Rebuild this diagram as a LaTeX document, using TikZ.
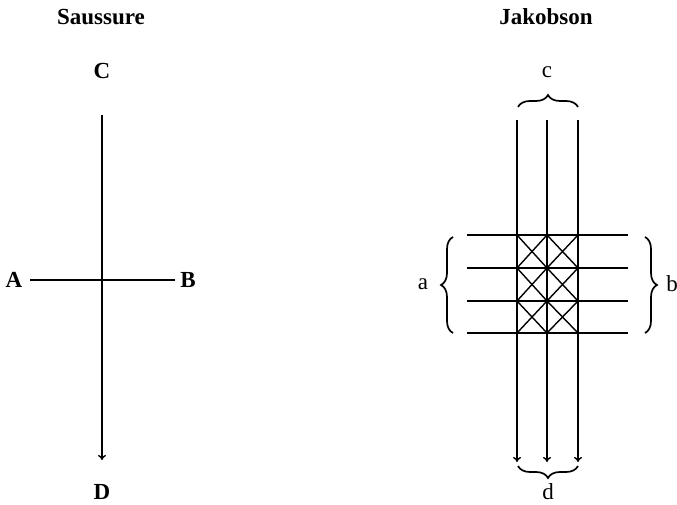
\documentclass[tikz,border=0pt]{standalone}
\usepackage{fontspec}
\setmainfont{Liberation Serif}
\usepackage{tikz}
\usetikzlibrary{arrows.meta, decorations.pathreplacing}

\begin{document}
\begin{tikzpicture}[x=1pt, y=1pt, line width=1.4pt,
    >={To[length=5pt,width=8pt]},
    every node/.style={font=\fontsize{23}{27}\selectfont},
    heading/.style={font=\fontsize{23}{27}\selectfont\bfseries},
    curly/.style={decorate, line width=1.7pt, decoration={brace, amplitude=12pt}}]
    \useasboundingbox (0,0) rectangle (677,504);
    % Saussure
    \node[heading] (saussure) at (101,487) {Saussure};
    \node[heading] (C) at (102,433) {C};
    \node[heading] (D) at (102,12) {D};
    \node[heading] (A) at (14,224) {A};
    \node[heading] (B) at (188,224) {B};
    \coordinate (Ctop) at (102,389);
    \coordinate (Dend) at (102,44);
    \coordinate (Aend) at (30,224);
    \coordinate (Bend) at (175,224);
    \draw[->] (Ctop) -- (Dend);
    \draw (Aend) -- (Bend);
    % Jakobson
    \node[heading] (jakobson) at (546,487) {Jakobson};
    \node (c) at (547,432) {c};
    \node (d) at (548,12) {d};
    \node (a) at (423,220) {a};
    \node (b) at (672,220) {b};
    \foreach \x [count=\i] in {517,547,578} {
        \coordinate (t\i) at (\x,384);
        \coordinate (e\i) at (\x,42);
        \draw[->] (t\i) -- (e\i);
    }
    \foreach \y [count=\j] in {269,236,203,171} {
        \coordinate (l\j) at (467,\y);
        \coordinate (r\j) at (628,\y);
        \draw (l\j) -- (r\j);
    }
    \foreach \x/\xx in {517/547,547/578}
        \foreach \y/\yy in {269/236,236/203,203/171} {
            \draw (\x,\y) -- (\xx,\yy);
            \draw (\x,\yy) -- (\xx,\y);
        }
    \draw[curly] (518,397) -- (578,397);
    \draw[curly] (578,38) -- (518,38);
    \draw[curly] (453,171) -- (453,267);
    \draw[curly] (645,267) -- (645,171);
\end{tikzpicture}
\end{document}
